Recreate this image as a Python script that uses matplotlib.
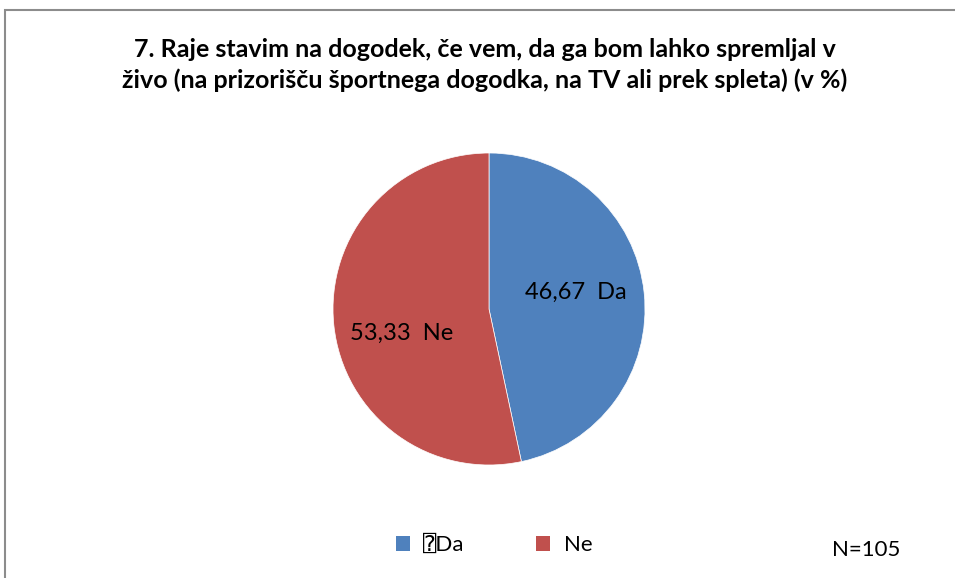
import matplotlib
matplotlib.use("Agg")
import matplotlib.pyplot as plt
from matplotlib.patches import Rectangle, Patch

plt.rcParams['font.family'] = ['Lato', 'DejaVu Sans', 'DejaVu Sans Mono']

categories = ['Da', 'Ne']
legend_labels = ['\u2370Da', 'Ne']
values = [46.67, 53.33]
colors = ['#4F81BD', '#C0504D']
title = ('7. Raje stavim na dogodek, če vem, da ga bom lahko spremljal v\n'
         'živo (na prizorišču športnega dogodka, na TV ali prek spleta) (v %)')
note = 'N=105'

W, H = 955, 578
fig = plt.figure(figsize=(W / 100, H / 100), dpi=100)

# chart frame (right and bottom edges run off the picture)
fig.patches.append(Rectangle((4.5 / W, -0.1), 1.1, (H - 9.5) / H + 0.1,
                             transform=fig.transFigure, fill=False,
                             edgecolor='#8c8c8c', lw=1.5))

fig.text(485 / W, 1 - 65 / H, title, ha='center', va='center',
         fontsize=18, fontweight='bold', linespacing=1.35)

cx, cy, r = 489, 309, 156
ax = fig.add_axes([(cx - r) / W, (H - cy - r) / H, 2 * r / W, 2 * r / H])
wedges, texts = ax.pie(values, colors=colors, startangle=90, counterclock=False,
                       labels=[f'{v:.2f}'.replace('.', ',') + '  ' + c
                               for v, c in zip(values, categories)],
                       labeldistance=0.56,
                       wedgeprops=dict(edgecolor='white', linewidth=0.5),
                       textprops=dict(fontsize=17, color='black'))
# small nudges so the labels sit where Excel put them
for t, dy in zip(texts, [0.05, -0.1]):
    x, y = t.get_position()
    t.set_position((x, y + dy))
    t.set_ha('center')
    t.set_va('center')
ax.set_xlim(-1, 1)
ax.set_ylim(-1, 1)
ax.axis('off')

handles = [Patch(facecolor=c, edgecolor='none') for c in colors]
fig.legend(handles, legend_labels, loc='center', bbox_to_anchor=(494 / W, 1 - 545 / H),
           ncol=2, frameon=False, fontsize=16, handlelength=0.65, handleheight=0.65,
           handletextpad=0.6, columnspacing=3.2)

fig.text(866 / W, 1 - 550 / H, note, ha='center', va='center', fontsize=16)

fig.savefig('out.png', dpi=100)
